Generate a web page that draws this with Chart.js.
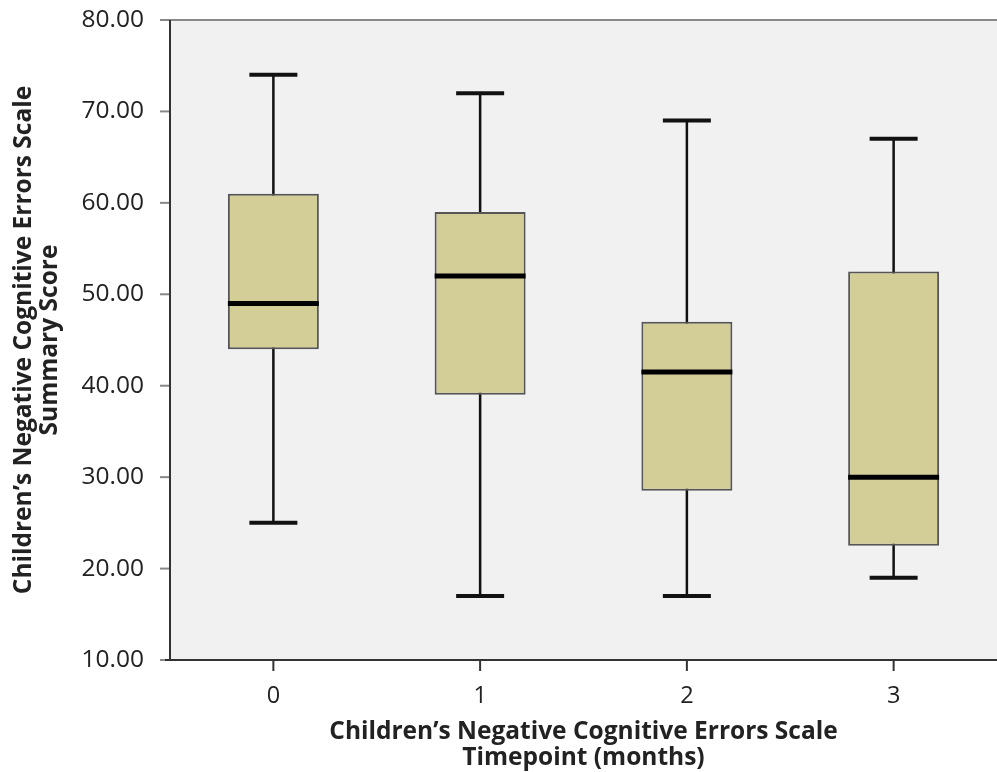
<!DOCTYPE html>
<html>
<head>
<meta charset="utf-8">
<script src="https://cdn.jsdelivr.net/npm/chart.js@4"></script>
<style>
  html, body { margin: 0; padding: 0; background: #fff; }
  #wrap { width: 997px; height: 772px; }
</style>
</head>
<body>
<div id="wrap"><canvas id="boxChart"></canvas></div>
<script>
// values
const timepoints = ["0", "1", "2", "3"];
const whiskerLow = [25, 17, 17, 19];
const quart1 = [44, 39, 28.5, 22.5];
const medians = [49, 52, 41.5, 30];
const quart3 = [61, 59, 47, 52.5];
const whiskerHigh = [74, 72, 69, 67];

const FONT = "'Open Sans', 'Noto Sans', sans-serif";

// plot background, frame lines, tick marks, whiskers, medians
const boxExtras = {
  id: "boxExtras",
  beforeDatasetsDraw(chart) {
    const { ctx, chartArea: a, scales } = chart;
    const x = scales.x, y = scales.y;
    ctx.save();
    ctx.fillStyle = "#f0f1f0";
    ctx.fillRect(a.left, a.top, a.right - a.left, a.bottom - a.top);

    ctx.strokeStyle = "#111";
    timepoints.forEach((t, i) => {
      const cx = x.getPixelForValue(i);
      ctx.lineWidth = 2.5;
      ctx.beginPath();
      ctx.moveTo(cx, y.getPixelForValue(whiskerLow[i]));
      ctx.lineTo(cx, y.getPixelForValue(whiskerHigh[i]));
      ctx.stroke();
      ctx.lineWidth = 4;
      [whiskerLow[i], whiskerHigh[i]].forEach(v => {
        const py = y.getPixelForValue(v);
        ctx.beginPath();
        ctx.moveTo(cx - 24, py);
        ctx.lineTo(cx + 24, py);
        ctx.stroke();
      });
    });
    ctx.restore();
  },
  afterDatasetsDraw(chart) {
    const { ctx, chartArea: a, scales } = chart;
    const meta = chart.getDatasetMeta(0);
    ctx.save();
    ctx.strokeStyle = "#000";
    ctx.lineWidth = 5;
    meta.data.forEach((bar, i) => {
      const py = scales.y.getPixelForValue(medians[i]);
      ctx.beginPath();
      ctx.moveTo(bar.x - bar.width / 2, py);
      ctx.lineTo(bar.x + bar.width / 2, py);
      ctx.stroke();
    });

    // y tick marks (gray) and top frame line
    ctx.strokeStyle = "#888";
    ctx.lineWidth = 2;
    scales.y.ticks.forEach(t => {
      const py = scales.y.getPixelForValue(t.value);
      ctx.beginPath();
      ctx.moveTo(a.left - 10, py);
      ctx.lineTo(a.left, py);
      ctx.stroke();
    });
    ctx.beginPath();
    ctx.moveTo(a.left - 7, a.top);
    ctx.lineTo(a.right, a.top);
    ctx.stroke();

    // axis lines and x tick marks (dark)
    ctx.strokeStyle = "#333";
    ctx.beginPath();
    ctx.moveTo(a.left, a.top);
    ctx.lineTo(a.left, a.bottom);
    ctx.moveTo(a.left - 5, a.bottom);
    ctx.lineTo(a.right, a.bottom);
    ctx.stroke();
    timepoints.forEach((t, i) => {
      const cx = scales.x.getPixelForValue(i);
      ctx.beginPath();
      ctx.moveTo(cx, a.bottom);
      ctx.lineTo(cx, a.bottom + 11);
      ctx.stroke();
    });
    ctx.restore();
  }
};

new Chart(document.getElementById("boxChart").getContext("2d"), {
  type: "bar",
  data: {
    labels: timepoints,
    datasets: [{
      data: timepoints.map((t, i) => [quart1[i], quart3[i]]),
      backgroundColor: "#d3ce97",
      borderColor: "#555",
      borderWidth: 2,
      borderSkipped: false,
      categoryPercentage: 1,
      barPercentage: 0.44
    }]
  },
  options: {
    responsive: true,
    maintainAspectRatio: false,
    animation: false,
    layout: { padding: { top: 20, right: 0, left: 0, bottom: 0 } },
    plugins: {
      legend: { display: false },
      tooltip: { enabled: false }
    },
    scales: {
      x: {
        grid: { display: false, offset: false, drawTicks: true, tickLength: 12 },
        border: { display: false },
        ticks: { color: "#222", font: { family: FONT, size: 23.5 }, padding: 10 },
        title: {
          display: true,
          text: ["Children\u2019s Negative Cognitive Errors Scale", "Timepoint (months)"],
          color: "#222",
          font: { family: FONT, size: 24.5, weight: "bold", lineHeight: 1.05 },
          padding: { top: 10, bottom: 1 }
        },
        afterFit(scale) { scale.height = 112; }
      },
      y: {
        min: 10,
        max: 80,
        grid: { display: false, drawTicks: true, tickLength: 21 },
        border: { display: false },
        ticks: {
          stepSize: 10,
          color: "#222",
          font: { family: FONT, size: 24.5 },
          padding: 5,
          callback: v => v.toFixed(2)
        },
        title: {
          display: true,
          text: ["Children\u2019s Negative Cognitive Errors Scale", "Summary Score"],
          color: "#222",
          font: { family: FONT, size: 24.5, weight: "bold", lineHeight: 1.05 },
          padding: { top: 11, bottom: 0 }
        },
        afterFit(scale) { scale.width = 170; }
      }
    }
  },
  plugins: [boxExtras]
});
</script>
</body>
</html>
